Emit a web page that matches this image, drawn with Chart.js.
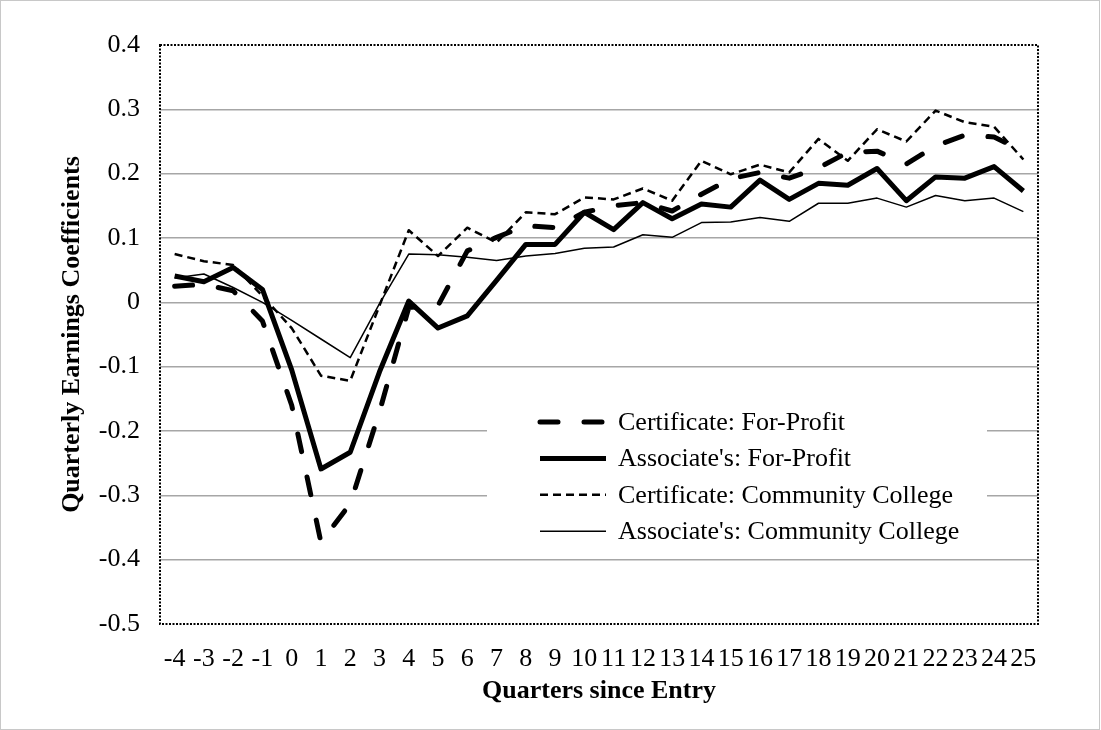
<!DOCTYPE html>
<html>
<head>
<meta charset="utf-8">
<script src="https://cdn.jsdelivr.net/npm/chart.js@4.4.1/dist/chart.umd.min.js"></script>
<style>
  html, body { margin: 0; padding: 0; background: #fff; }
  #wrap { width: 1101px; height: 730px; }
</style>
</head>
<body>
<div id="wrap"><canvas id="earningsChart" width="1101" height="730"></canvas></div>
<script>
// quarters since entry (x categories)
const quarters = ["-4", "-3", "-2", "-1", "0", "1", "2", "3", "4", "5", "6", "7", "8", "9", "10",
  "11", "12", "13", "14", "15", "16", "17", "18", "19", "20", "21", "22", "23", "24", "25"];

// series values
const certForProfit = [0.025, 0.028, 0.018, -0.029, -0.160, -0.373, -0.313, -0.170, -0.008, -0.005,
  0.080, 0.101, 0.119, 0.116, 0.140, 0.150, 0.155, 0.142, 0.168, 0.192,
  0.202, 0.193, 0.209, 0.233, 0.235, 0.215, 0.243, 0.260, 0.257, 0.235];
const assocForProfit = [0.041, 0.032, 0.054, 0.020, -0.105, -0.259, -0.233, -0.108, 0.002, -0.040,
  -0.021, 0.034, 0.090, 0.090, 0.140, 0.113, 0.155, 0.130, 0.153, 0.148,
  0.190, 0.160, 0.185, 0.182, 0.208, 0.158, 0.195, 0.193, 0.211, 0.173];
const certCommunity = [0.075, 0.064, 0.058, 0.010, -0.040, -0.114, -0.122, -0.005, 0.112, 0.072,
  0.116, 0.093, 0.140, 0.137, 0.163, 0.160, 0.177, 0.158, 0.220, 0.199,
  0.214, 0.202, 0.254, 0.220, 0.269, 0.250, 0.298, 0.280, 0.273, 0.222];
const assocCommunity = [0.038, 0.044, 0.023, 0.000, -0.028, -0.057, -0.086, -0.002, 0.075, 0.074,
  0.070, 0.065, 0.072, 0.076, 0.084, 0.086, 0.105, 0.101, 0.124, 0.125,
  0.132, 0.126, 0.154, 0.154, 0.162, 0.148, 0.166, 0.158, 0.162, 0.141];

const seriesLabels = ["Certificate: For-Profit", "Associate's: For-Profit",
  "Certificate: Community College", "Associate's: Community College"];

const yMin = -0.5;
const yMax = 0.4;
const yStep = 0.1;

const serif = '"Liberation Serif", "Times New Roman", serif';
Chart.defaults.font.family = serif;
Chart.defaults.font.size = 26;
Chart.defaults.color = "#000";

// dotted frame round the plot + light outer border
const framePlugin = {
  id: "framePlugin",
  beforeDatasetsDraw(chart) {
    const { ctx, chartArea: a } = chart;
    ctx.save();
    ctx.strokeStyle = "#000";
    ctx.lineWidth = 2;
    ctx.setLineDash([2, 1.5]);
    ctx.strokeRect(a.left, a.top, a.right - a.left, a.bottom - a.top);
    ctx.restore();
  },
  afterDraw(chart) {
    const ctx = chart.ctx;
    ctx.save();
    ctx.strokeStyle = "#c8c8c8";
    ctx.lineWidth = 1;
    ctx.strokeRect(0.5, 0.5, chart.width - 2, chart.height - 1);
    ctx.restore();
  }
};

// legend drawn inside the plot, on a white box
const boxLegend = {
  id: "boxLegend",
  afterDatasetsDraw(chart) {
    const ctx = chart.ctx;
    const a = chart.chartArea;
    const boxLeft = a.left + 327;
    const boxTop = 405;
    ctx.save();
    ctx.fillStyle = "#fff";
    ctx.fillRect(boxLeft, boxTop, 500, 146);
    chart.data.datasets.forEach((ds, i) => {
      const y = 422 + i * 36.4;
      ctx.beginPath();
      ctx.strokeStyle = ds.borderColor;
      ctx.lineWidth = ds.borderWidth;
      ctx.lineCap = ds.borderCapStyle || "butt";
      ctx.setLineDash(ds.borderDash || []);
      ctx.moveTo(540, y);
      ctx.lineTo(606, y);
      ctx.stroke();
      ctx.setLineDash([]);
      ctx.fillStyle = "#000";
      ctx.font = "26px " + serif;
      ctx.textBaseline = "middle";
      ctx.textAlign = "left";
      ctx.fillText(ds.label, 618, y + 1);
    });
    ctx.restore();
  }
};

const ctx = document.getElementById("earningsChart").getContext("2d");

new Chart(ctx, {
  type: "line",
  data: {
    labels: quarters,
    datasets: [
      {
        label: seriesLabels[0],
        data: certForProfit,
        borderColor: "#000",
        borderWidth: 5,
        borderDash: [18, 26],
        borderCapStyle: "round",
        order: 4
      },
      {
        label: seriesLabels[1],
        data: assocForProfit,
        borderColor: "#000",
        borderWidth: 5,
        order: 3
      },
      {
        label: seriesLabels[2],
        data: certCommunity,
        borderColor: "#000",
        borderWidth: 2.5,
        borderDash: [8, 5],
        order: 2
      },
      {
        label: seriesLabels[3],
        data: assocCommunity,
        borderColor: "#000",
        borderWidth: 1.5,
        order: 1
      }
    ]
  },
  options: {
    responsive: false,
    animation: false,
    devicePixelRatio: 1,
    layout: {
      padding: { top: 45, right: 63, bottom: 0, left: 0 }
    },
    elements: {
      line: { tension: 0, fill: false, borderJoinStyle: "round" },
      point: { radius: 0, hoverRadius: 0 }
    },
    plugins: {
      legend: { display: false },
      tooltip: { enabled: false }
    },
    scales: {
      x: {
        type: "category",
        offset: true,
        grid: { display: false, drawTicks: false },
        border: { display: false },
        ticks: {
          padding: 20,
          maxRotation: 0,
          autoSkip: false,
          color: "#000",
          font: { size: 26 }
        },
        title: {
          display: true,
          text: "Quarters since Entry",
          color: "#000",
          font: { size: 26, weight: "bold" },
          padding: { top: 0, bottom: 23 }
        },
        afterFit: (scale) => { scale.height = 106; }
      },
      y: {
        min: yMin,
        max: yMax,
        grid: {
          drawTicks: false,
          lineWidth: 1.5,
          color: (c) => {
            const v = c.tick ? c.tick.value : 0;
            if (Math.abs(v - yMin) < 1e-6 || Math.abs(v - yMax) < 1e-6) return "rgba(0,0,0,0)";
            return "#a6a6a6";
          }
        },
        border: { display: false },
        ticks: {
          stepSize: yStep,
          padding: 20,
          color: "#000",
          font: { size: 26 },
          callback: (value) => {
            const r = Math.round(value * 10) / 10;
            return r === 0 ? "0" : r.toFixed(1);
          }
        },
        title: {
          display: true,
          text: "Quarterly Earnings Coefficients",
          color: "#000",
          font: { size: 26, weight: "bold" },
          padding: { top: 57, bottom: 0 }
        },
        afterFit: (scale) => { scale.width = 160; }
      }
    }
  },
  plugins: [framePlugin, boxLegend]
});
</script>
</body>
</html>
